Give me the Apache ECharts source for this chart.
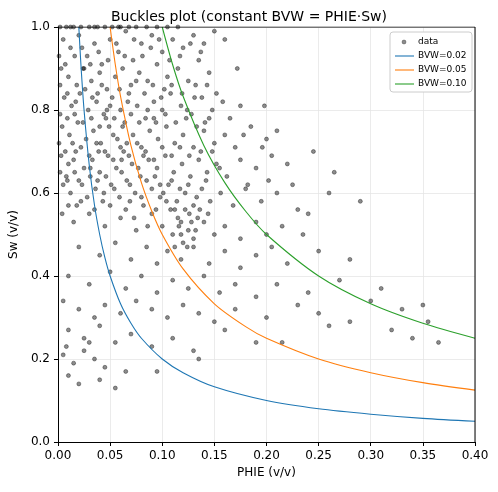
<!DOCTYPE html>
<html>
<head>
<meta charset="utf-8">
<script src="https://cdn.jsdelivr.net/npm/echarts@6/dist/echarts.min.js"></script>
<style>html,body{margin:0;padding:0;background:#fff}#chart{width:498px;height:492px}</style>
</head>
<body>
<div id="chart"></div>
<script>
// scatter points: [PHIE, Sw]
var points = [
[0.002,1.0],[0.008,1.0],[0.015,1.0],[0.022,1.0],[0.03,1.0],[0.038,1.0],[0.045,1.0],[0.052,1.0],[0.06,1.0],[0.068,1.0],[0.075,1.0],[0.085,1.0],[0.095,1.0],[0.105,1.0],[0.115,1.0],[0.012,1.0],[0.035,1.0],[0.058,1.0],
[0.005,0.97],[0.012,0.95],[0.02,0.98],[0.028,0.93],[0.035,0.96],[0.042,0.91],[0.05,0.97],[0.058,0.94],[0.065,0.99],[0.072,0.92],[0.08,0.96],[0.09,0.98],[0.1,0.94],[0.11,0.97],[0.12,0.95],[0.13,0.98],[0.14,0.96],[0.15,0.99],[0.16,0.97],
[0.003,0.9],[0.01,0.88],[0.018,0.86],[0.025,0.9],[0.032,0.87],[0.04,0.89],[0.047,0.85],[0.055,0.88],[0.062,0.9],[0.07,0.86],[0.078,0.89],[0.086,0.87],[0.095,0.91],[0.105,0.88],[0.115,0.9],[0.125,0.87],[0.135,0.92],[0.145,0.89],
[0.006,0.83],[0.013,0.81],[0.021,0.84],[0.029,0.8],[0.037,0.82],[0.044,0.79],[0.052,0.83],[0.06,0.8],[0.068,0.84],[0.076,0.81],[0.084,0.78],[0.092,0.82],[0.1,0.8],[0.108,0.84],[0.118,0.81],[0.128,0.79],[0.138,0.83],[0.148,0.8],[0.158,0.82],[0.175,0.81],
[0.004,0.76],[0.011,0.74],[0.019,0.77],[0.027,0.73],[0.034,0.75],[0.041,0.72],[0.049,0.76],[0.057,0.73],[0.064,0.77],[0.072,0.74],[0.08,0.71],[0.088,0.75],[0.096,0.73],[0.104,0.76],[0.112,0.72],[0.12,0.74],[0.13,0.71],[0.14,0.75],[0.15,0.72],[0.16,0.74],[0.17,0.71],[0.185,0.76],[0.2,0.73],[0.21,0.75],
[0.003,0.69],[0.01,0.67],[0.017,0.7],[0.025,0.66],[0.033,0.68],[0.04,0.65],[0.048,0.69],[0.056,0.66],[0.063,0.7],[0.071,0.67],[0.079,0.64],[0.087,0.68],[0.095,0.66],[0.103,0.69],[0.111,0.65],[0.119,0.67],[0.127,0.64],[0.135,0.68],[0.143,0.65],[0.152,0.67],[0.162,0.64],[0.175,0.68],[0.19,0.66],[0.205,0.69],[0.22,0.67],[0.245,0.7],
[0.005,0.62],[0.012,0.6],[0.02,0.63],[0.028,0.59],[0.036,0.61],[0.043,0.58],[0.051,0.62],[0.059,0.59],[0.066,0.63],[0.074,0.6],[0.082,0.57],[0.09,0.61],[0.098,0.59],[0.106,0.62],[0.114,0.58],[0.122,0.6],[0.13,0.57],[0.138,0.61],[0.146,0.58],[0.156,0.6],[0.168,0.57],[0.18,0.61],[0.195,0.58],[0.21,0.6],[0.23,0.56],[0.26,0.6],
[0.004,0.55],[0.015,0.53],[0.03,0.55],[0.045,0.52],[0.06,0.54],[0.075,0.51],[0.09,0.55],[0.1,0.52],[0.11,0.5],[0.115,0.54],[0.12,0.48],[0.125,0.51],[0.13,0.49],[0.14,0.53],[0.15,0.5],[0.16,0.52],[0.175,0.49],[0.19,0.53],[0.2,0.5],[0.215,0.52],[0.235,0.5],
[0.02,0.47],[0.04,0.45],[0.055,0.48],[0.07,0.44],[0.085,0.47],[0.095,0.43],[0.105,0.46],[0.118,0.44],[0.13,0.47],[0.145,0.43],[0.16,0.46],[0.175,0.42],[0.19,0.45],[0.205,0.47],[0.22,0.43],[0.25,0.46],[0.28,0.44],
[0.01,0.4],[0.03,0.38],[0.05,0.41],[0.065,0.37],[0.08,0.4],[0.095,0.36],[0.11,0.39],[0.125,0.37],[0.14,0.4],[0.155,0.36],[0.17,0.38],[0.19,0.35],[0.21,0.38],[0.24,0.36],[0.27,0.39],[0.31,0.37],
[0.005,0.34],[0.02,0.32],[0.035,0.3],[0.045,0.33],[0.06,0.31],[0.075,0.34],[0.09,0.32],[0.105,0.3],[0.12,0.33],[0.135,0.31],[0.15,0.29],[0.17,0.32],[0.2,0.3],[0.23,0.33],[0.25,0.31],[0.28,0.29],[0.3,0.34],[0.33,0.32],[0.35,0.33],[0.355,0.29],
[0.01,0.27],[0.025,0.25],[0.04,0.28],[0.055,0.24],[0.07,0.26],[0.09,0.23],[0.11,0.25],[0.13,0.22],[0.16,0.27],[0.19,0.24],[0.215,0.24],[0.26,0.28],[0.32,0.27],[0.34,0.25],[0.365,0.24],
[0.005,0.21],[0.015,0.19],[0.025,0.22],[0.035,0.2],[0.045,0.18],[0.01,0.16],[0.02,0.14],[0.04,0.15],[0.055,0.13],[0.065,0.17],[0.095,0.17],[0.135,0.2],[0.008,0.23],[0.03,0.24],
[0.024,0.9],[0.038,0.84],[0.046,0.78],[0.066,0.72],[0.082,0.69],[0.098,0.62],[0.108,0.56],[0.116,0.52],[0.122,0.56],[0.134,0.54],[0.142,0.63],[0.148,0.7],[0.155,0.66],[0.165,0.78],[0.178,0.74],[0.182,0.62],[0.196,0.71],[0.202,0.63],[0.225,0.62],[0.24,0.55],[0.265,0.65],[0.29,0.58],
[0.014,0.72],[0.031,0.64],[0.039,0.7],[0.053,0.74],[0.061,0.68],[0.069,0.58],[0.086,0.52],[0.092,0.78],[0.102,0.85],[0.124,0.8],[0.132,0.86],[0.141,0.77],[0.152,0.84],[0.198,0.81],[0.172,0.9],[0.018,0.57],[0.008,0.64],[0.044,0.6],[0.073,0.54],
[0.001,0.93],[0.007,0.91],[0.016,0.93],[0.023,0.95],[0.031,0.91],[0.039,0.94],[0.048,0.92],[0.056,0.96],[0.064,0.93],[0.073,0.97],[0.081,0.93],[0.089,0.95],[0.097,0.97],[0.107,0.92],[0.117,0.93],[0.127,0.96],[0.137,0.94],
[0.002,0.86],[0.009,0.84],[0.017,0.82],[0.026,0.85],[0.033,0.83],[0.042,0.86],[0.05,0.81],[0.059,0.85],[0.067,0.82],[0.075,0.87],[0.083,0.84],[0.091,0.86],[0.099,0.83],[0.109,0.86],[0.119,0.84],[0.131,0.83],[0.143,0.86],
[0.002,0.79],[0.009,0.78],[0.016,0.79],[0.024,0.77],[0.032,0.78],[0.04,0.76],[0.047,0.8],[0.054,0.78],[0.062,0.76],[0.07,0.79],[0.078,0.77],[0.086,0.8],[0.094,0.77],[0.103,0.79],[0.113,0.77],[0.123,0.78],[0.133,0.76],[0.145,0.78],
[0.001,0.72],[0.007,0.7],[0.015,0.68],[0.022,0.71],[0.03,0.69],[0.037,0.72],[0.045,0.7],[0.053,0.68],[0.06,0.71],[0.068,0.69],[0.076,0.72],[0.084,0.7],[0.092,0.68],[0.1,0.71],[0.109,0.69],[0.117,0.71],[0.126,0.69],[0.137,0.7],
[0.002,0.65],[0.009,0.63],[0.016,0.65],[0.023,0.62],[0.031,0.66],[0.038,0.63],[0.046,0.64],[0.054,0.61],[0.061,0.65],[0.069,0.62],[0.077,0.66],[0.085,0.63],[0.093,0.64],[0.101,0.6],[0.109,0.63],[0.117,0.61],[0.125,0.62],[0.133,0.59],
[0.01,0.57],[0.022,0.58],[0.035,0.56],[0.05,0.57],[0.065,0.56],[0.08,0.59],[0.094,0.56],[0.104,0.58],[0.112,0.56],[0.118,0.53],[0.126,0.55],[0.128,0.53],[0.136,0.56],[0.118,0.5],[0.124,0.47],[0.112,0.47],[0.132,0.51],[0.144,0.55]
];
// reference curves Sw = BVW / PHIE, sampled values
var phie02 = [0.02,0.022,0.025,0.03,0.035,0.04,0.045,0.05,0.06,0.07,0.08,0.1,0.12,0.15,0.2,0.25,0.3,0.35,0.4];
var sw02   = [1.0,0.909,0.8,0.667,0.571,0.5,0.444,0.4,0.333,0.286,0.25,0.2,0.167,0.133,0.1,0.08,0.067,0.057,0.05];
var phie05 = [0.05,0.055,0.06,0.07,0.08,0.09,0.1,0.12,0.15,0.18,0.2,0.25,0.3,0.35,0.4];
var sw05   = [1.0,0.909,0.833,0.714,0.625,0.556,0.5,0.417,0.333,0.278,0.25,0.2,0.167,0.143,0.125];
var phie10 = [0.1,0.11,0.12,0.14,0.16,0.18,0.2,0.25,0.3,0.35,0.4];
var sw10   = [1.0,0.909,0.833,0.714,0.625,0.556,0.5,0.4,0.333,0.286,0.25];
var legendNames = ['data', 'BVW=0.02', 'BVW=0.05', 'BVW=0.10'];
var legendColors = ['rgba(0,0,0,0.45)', '#1f77b4', '#ff7f0e', '#2ca02c'];

function zip(a, b) { return a.map(function(v, i){ return [v, b[i]]; }); }

var myChart = echarts.init(document.getElementById('chart'));
var axisCommon = {
  axisLine: { show: true, onZero: false, lineStyle: { color: '#000' } },
  axisTick: { show: true, inside: false, length: 4, lineStyle: { color: '#000' } },
  axisLabel: { color: '#000', fontSize: 12, fontFamily: 'DejaVu Sans' },
  splitLine: { show: true, lineStyle: { color: '#e6e6e6', width: 0.8 } },
  nameLocation: 'middle',
  nameTextStyle: { color: '#000', fontSize: 12, fontFamily: 'DejaVu Sans' }
};
function lineSeries(name, d, color) {
  return { name: name, type: 'line', data: d, smooth: 0.3, showSymbol: false, symbol: 'none',
    lineStyle: { color: color, width: 1.1 }, itemStyle: { color: color }, z: 3 };
}
// legend box drawn as graphic (matplotlib style)
var lx = 390, ly = 32, legendEls = [
  { type: 'rect', shape: { x: lx, y: ly, width: 82, height: 60, r: 3 }, style: { fill: '#fff', stroke: '#ccc', lineWidth: 1 }, z: 10 }
];
legendNames.forEach(function(n, i) {
  var cy = ly + 10 + i * 14;
  if (i === 0) {
    legendEls.push({ type: 'circle', shape: { cx: lx + 14, cy: cy, r: 2 }, style: { fill: legendColors[0], stroke: 'rgba(0,0,0,0.6)', lineWidth: 0.5 }, z: 11 });
  } else {
    legendEls.push({ type: 'line', shape: { x1: lx + 5, y1: cy, x2: lx + 24, y2: cy }, style: { stroke: legendColors[i], lineWidth: 1.1 }, z: 11 });
  }
  legendEls.push({ type: 'text', x: lx + 28, y: cy, style: { text: n, fontSize: 9, fontFamily: 'DejaVu Sans', fill: '#000', verticalAlign: 'middle' }, z: 11 });
});
myChart.setOption({
  animation: false,
  title: { text: 'Buckles plot (constant BVW = PHIE·Sw)', left: 'center', top: 5,
    textStyle: { fontSize: 14, fontWeight: 'normal', fontFamily: 'DejaVu Sans', color: '#000' } },
  grid: { left: 57, right: 23, top: 27, bottom: 50 },
  graphic: legendEls,
  xAxis: Object.assign({}, axisCommon, { type: 'value', min: 0, max: 0.4, interval: 0.05, name: 'PHIE (v/v)', nameGap: 25,
    axisLabel: Object.assign({}, axisCommon.axisLabel, { formatter: function(v){ return v.toFixed(2); } }) }),
  yAxis: Object.assign({}, axisCommon, { type: 'value', min: 0, max: 1, interval: 0.2, name: 'Sw (v/v)', nameGap: 34,
    axisLabel: Object.assign({}, axisCommon.axisLabel, { formatter: function(v){ return v.toFixed(1); } }) }),
  series: [
    { name: 'data', type: 'scatter', data: points, symbolSize: 4, z: 2,
      itemStyle: { color: 'rgba(0,0,0,0.45)', borderColor: 'rgba(0,0,0,0.6)', borderWidth: 0.6, opacity: 1 } },
    lineSeries('BVW=0.02', zip(phie02, sw02), '#1f77b4'),
    lineSeries('BVW=0.05', zip(phie05, sw05), '#ff7f0e'),
    lineSeries('BVW=0.10', zip(phie10, sw10), '#2ca02c'),
    { type: 'line', data: [[0.4, 0], [0.4, 1]], symbol: 'none', silent: true, lineStyle: { color: '#000', width: 1 } },
    { type: 'line', data: [[0, 1], [0.4, 1]], symbol: 'none', silent: true, lineStyle: { color: '#000', width: 1 } }
  ]
});
</script>
</body>
</html>
